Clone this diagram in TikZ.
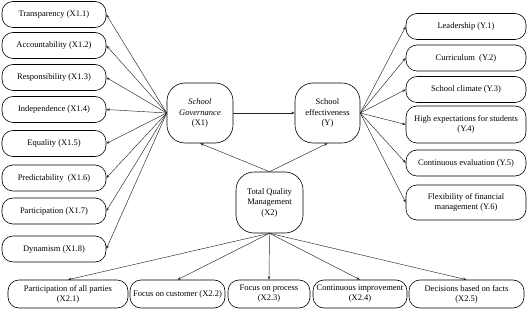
\documentclass[tikz,border=0pt]{standalone}
\usepackage{fontspec}
\setmainfont{Liberation Serif}
\usetikzlibrary{arrows.meta}
\begin{document}
\begin{tikzpicture}[x=1pt,y=-1pt,
  box/.style={draw,rounded corners=11pt,minimum height=26pt,inner sep=1pt,align=center,font=\fontsize{8.5}{10}\selectfont,line width=0.6pt},
  lbox/.style={box,minimum width=104pt},
  rbox/.style={box,minimum width=120pt},
  bbox/.style={box,minimum height=28pt},
  core/.style={draw,rounded corners=18pt,minimum width=66pt,minimum height=60pt,align=center,font=\fontsize{8.5}{10.5}\selectfont,line width=0.6pt},
  arr/.style={-{Stealth[length=3.5pt,width=2.6pt]},line width=0.45pt,draw=black!85}]
\useasboundingbox (0,0) rectangle (529,312);
% core nodes
\node[core] (sg) at (200,113) {\textit{School}\\\textit{Governance}\\(X1)};
\node[core,minimum width=65pt] (se) at (327.5,113) {School\\effectiveness\\(Y)};
\node[core,minimum width=67pt,minimum height=61pt] (tqm) at (269.5,202.5) {Total Quality\\Management\\(X2)};
% left boxes
\node[lbox] (x11) at (54,14.5) {Transparency (X1.1)};
\node[lbox] (x12) at (54,45.5) {Accountability (X1.2)};
\node[lbox] (x13) at (54,77.5) {Responsibility (X1.3)};
\node[lbox] (x14) at (54,109.5) {Independence (X1.4)};
\node[lbox] (x15) at (54,143.5) {Equality (X1.5)};
\node[lbox] (x16) at (54,178) {Predictability\ \ (X1.6)};
\node[lbox] (x17) at (54,211) {Participation (X1.7)};
\node[lbox] (x18) at (54,249) {Dynamism (X1.8)};
% right boxes
\node[rbox] (y1) at (466,26.5) {Leadership (Y.1)};
\node[rbox] (y2) at (466,58) {Curriculum\ \ (Y.2)};
\node[rbox] (y3) at (466,89.5) {School climate (Y.3)};
\node[rbox,minimum height=37pt] (y4) at (466,124.5) {High expectations for students\\(Y.4)};
\node[rbox] (y5) at (466,163) {Continuous evaluation (Y.5)};
\node[rbox,minimum height=35pt] (y6) at (466,202.5) {Flexibility of financial\\management (Y.6)};
% bottom boxes
\node[bbox,minimum width=120pt] (x21) at (68,294) {Participation of all parties\\(X2.1)};
\node[bbox,minimum width=95pt] (x22) at (177.5,294) {Focus on customer (X2.2)};
\node[bbox,minimum width=82pt] (x23) at (269,294) {Focus on process\\(X2.3)};
\node[bbox,minimum width=94pt] (x24) at (360,294) {Continuous improvement\\(X2.4)};
\node[bbox,minimum width=115pt] (x25) at (466.5,294) {Decisions based on facts\\(X2.5)};
% arrows
\foreach \n in {x11,x12,x13,x14,x15,x16,x17,x18} \draw[arr] (sg.west) -- (\n.east);
\foreach \n in {y1,y2,y3,y4,y5,y6} \draw[arr] (se.east) -- (\n.west);
\foreach \n in {x21,x22,x23,x24,x25} \draw[arr] (tqm.south) -- (\n.north);
\draw[arr] (sg.east) -- (se.west);
\draw[arr] (tqm.north) -- (sg.south);
\draw[arr] (tqm.north) -- (se.south);
\end{tikzpicture}
\end{document}
